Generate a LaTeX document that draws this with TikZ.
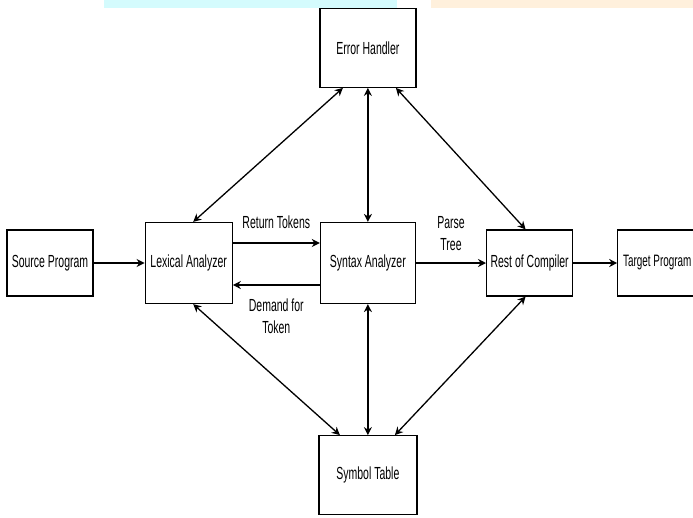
\documentclass[tikz,border=0pt]{standalone}
\usepackage{fontspec}
\setmainfont[FakeStretch=0.6]{Liberation Sans}
\usepackage{tikz}
\usetikzlibrary{arrows.meta,positioning}
\definecolor{wmcyan}{HTML}{D4FBFD}
\definecolor{wmorange}{HTML}{FFF0DC}

\begin{document}
\begin{tikzpicture}[
  x=1pt, y=-1pt,
  box/.style={draw, line width=1.2pt, align=center, inner sep=0pt,
    font=\fontsize{17.5}{22}\selectfont},
  lbl/.style={align=center, font=\fontsize{17.5}{22}\selectfont},
  flow/.style={-{Stealth[length=8pt,width=8pt]}, line width=1.3pt},
  both/.style={{Stealth[length=8pt,width=8pt]}-{Stealth[length=8pt,width=8pt]}, line width=1.3pt}
]
\clip (0,0) rectangle (693,517);
% watermark strips at the top
\fill[wmcyan] (104,0) rectangle (397,8);
\fill[wmorange] (431,0) rectangle (693,8);

\node[box, minimum width=86pt, minimum height=66pt] (src) at (50,263) {Source Program};
\node[box, minimum width=87pt, minimum height=81pt, right=51pt of src] (lex) {Lexical Analyzer};
\node[box, minimum width=95pt, minimum height=81pt, right=87pt of lex] (syn) {Syntax Analyzer};
\node[box, minimum width=86pt, minimum height=66pt, right=70pt of syn] (rest) {Rest of Compiler};
\node[box, minimum width=79pt, minimum height=66pt, right=44pt of rest,
  font=\fontsize{16.5}{22}\selectfont] (tgt) {Target Program};
\node[box, minimum width=96pt, minimum height=79pt, above=134pt of syn] (err) {Error Handler};
\node[box, minimum width=98pt, minimum height=79pt, below=131pt of syn] (sym) {Symbol Table};

\draw[flow] (src) -- (lex);
\draw[flow] ([yshift=20pt]lex.east) -- node[lbl, midway, yshift=21pt] {Return Tokens} ([yshift=20pt]syn.west);
\draw[flow] ([yshift=-22pt]syn.west) -- node[lbl, midway, yshift=-31pt] {Demand for\\Token} ([yshift=-22pt]lex.east);
\draw[flow] (syn) -- node[lbl, midway, yshift=29pt] {Parse\\Tree} (rest);
\draw[flow] (rest) -- (tgt);

\draw[both] ([xshift=-25pt]err.south) -- ([xshift=4.5pt]lex.north);
\draw[both] (err.south) -- (syn.north);
\draw[both] ([xshift=28pt]err.south) -- ([xshift=-4pt]rest.north);
\draw[both] ([xshift=-28pt]sym.north) -- ([xshift=4.5pt]lex.south);
\draw[both] (sym.north) -- (syn.south);
\draw[both] ([xshift=27pt]sym.north) -- ([xshift=-4pt]rest.south);
\end{tikzpicture}
\end{document}
